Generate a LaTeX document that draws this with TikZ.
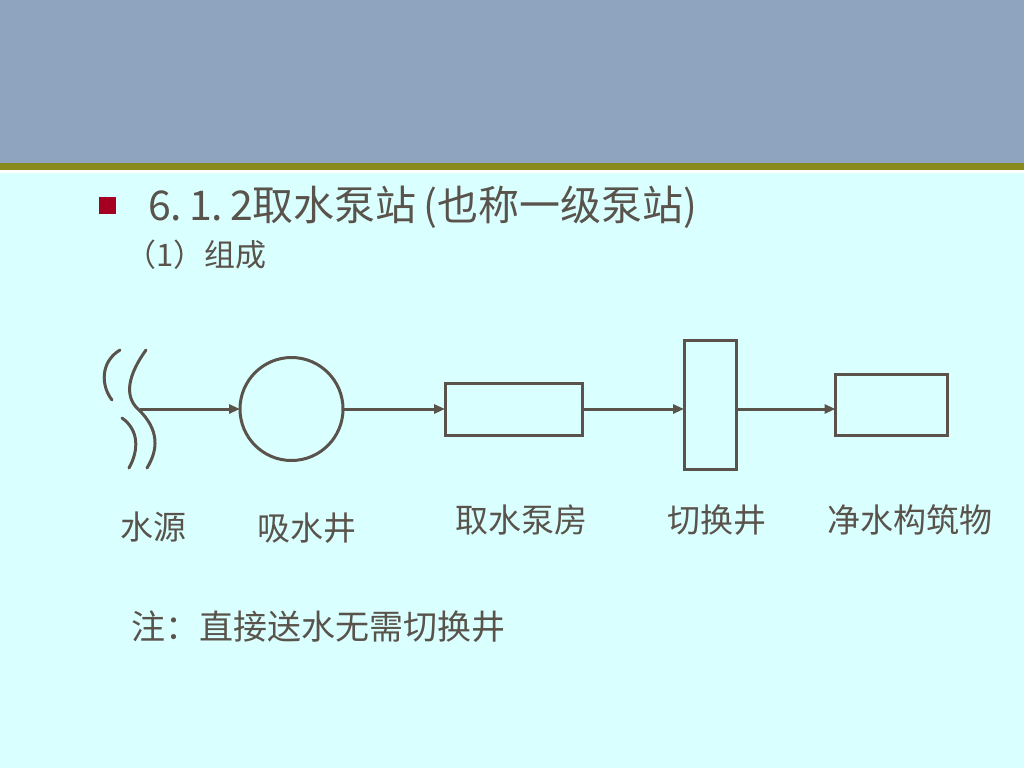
\documentclass[tikz,border=0pt]{standalone}
\usepackage{fontspec}
\newfontfamily\cjk{Noto Sans CJK SC}
\usetikzlibrary{arrows.meta}
\definecolor{bgc}{HTML}{D9FFFF}
\definecolor{headc}{HTML}{8FA5BF}
\definecolor{olivec}{HTML}{888A1D}
\definecolor{inkc}{HTML}{59534B}
\definecolor{bulletc}{HTML}{A50021}
\tikzset{
  ln/.style={draw=inkc, line width=3pt},
  box/.style={ln, rectangle, inner sep=0pt, outer sep=0pt},
  arr/.style={draw=inkc, line width=3pt, -{Triangle[length=11pt,width=9pt]}},
  lbl/.style={text=inkc, font=\cjk\fontsize{33}{38}\selectfont, inner sep=0pt},
}
\begin{document}
\begin{tikzpicture}[x=1pt,y=-1pt]
\useasboundingbox (0,0) rectangle (1024,768);
\fill[bgc] (0,0) rectangle (1024,768);
\fill[headc] (0,0) rectangle (1024,163);
\fill[olivec] (0,163) rectangle (1024,170);
\fill[white] (0,170) rectangle (1024,173);
% bullet and headings
\node[fill=bulletc, minimum size=17pt, inner sep=0pt] (bul) at (107.5,205) {};
\node[anchor=west, text=inkc, inner sep=0pt, font=\cjk\fontsize{41}{46}\selectfont] (title) at (148,207) {6.\,1.\,2取水泵站\,(也称一级泵站)};
\node[anchor=west, lbl, font=\cjk\fontsize{31}{36}\selectfont] (sub) at (125,255) {（1）组成};
% water source
\draw[ln, line cap=round] (120,350) .. controls (100,362) and (101,386) .. (112,400);
\draw[ln, line cap=round] (122,418) .. controls (139,430) and (139,450) .. (129,468);
\draw[ln, line cap=round] (146,350) .. controls (128,375) and (124,396) .. (138,409) .. controls (160,430) and (158,450) .. (147,468);
\coordinate (src) at (140,409);
% components
\node[ln, circle, minimum size=103pt, inner sep=0pt, outer sep=0pt] (well) at (291.5,409) {};
\node[box, minimum width=137pt, minimum height=52pt] (pump) at (513.5,409) {};
\node[box, minimum width=52pt, minimum height=129pt] (sw) at (710,404.5) {};
\node[box, minimum width=112pt, minimum height=61pt] (plant) at (891.5,404.5) {};
% connectors
\draw[arr] (src) -- (well.west);
\draw[arr] (well.east) -- (pump.west);
\draw[arr] (pump.east) -- (pump.east -| sw.west);
\draw[arr] (sw.east |- pump.east) -- (pump.east -| plant.west);
% labels
\node[lbl] (l1) at (153,527) {水源};
\node[lbl] (l2) at (307,528) {吸水井};
\node[lbl] (l3) at (521,520) {取水泵房};
\node[lbl] (l4) at (717,520) {切换井};
\node[lbl] (l5) at (910,520) {净水构筑物};
\node[lbl, anchor=west, font=\cjk\fontsize{34}{39}\selectfont] (note) at (131,627) {注：直接送水无需切换井};
\end{tikzpicture}
\end{document}
